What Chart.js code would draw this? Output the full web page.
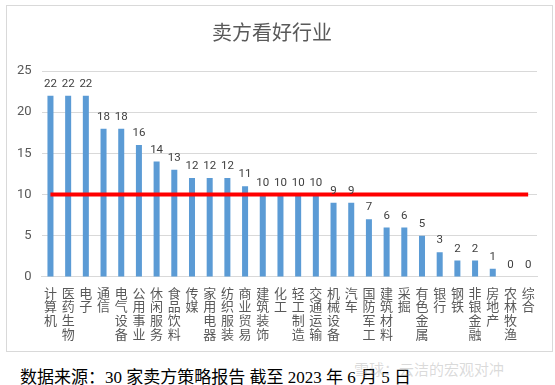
<!doctype html>
<html lang="zh">

<head>
    <meta charset="utf-8">
    <title>卖方看好行业</title>
    <script src="https://cdn.jsdelivr.net/npm/chart.js"></script>
    <style>
        body {
            margin: 0;
            width: 555px;
            height: 385px;
            background: #fff;
            position: relative;
            overflow: hidden;
        }

        #box {
            position: absolute;
            left: 6px;
            top: 5px;
            width: 545px;
            height: 345px;
            border: 1px solid #d9d9d9;
        }

        #note {
            position: absolute;
            left: 20px;
            top: 363px;
            font: 17px "Liberation Serif", "Noto Sans CJK SC", serif;
            color: #000;
            white-space: nowrap;
        }

        #mark {
            position: absolute;
            left: 354px;
            top: 358px;
            font: 15px "Noto Sans CJK SC", sans-serif;
            color: rgba(150, 150, 150, 0.35);
            white-space: nowrap;
        }
    </style>
</head>

<body>
    <div id="box">
        <canvas id="myChart" width="545" height="345"></canvas>
    </div>
    <div id="note">数据来源：30 家卖方策略报告 截至 2023 年 6 月 5 日</div>
    <div id="mark">雪球：云洁的宏观对冲</div>

    <script>
        // industries and how many of the 30 reports favour each
        var industries = ['计算机', '医药生物', '电子', '通信', '电气设备', '公用事业', '休闲服务', '食品饮料',
            '传媒', '家用电器', '纺织服装', '商业贸易', '建筑装饰', '化工', '轻工制造', '交通运输',
            '机械设备', '汽车', '国防军工', '建筑材料', '采掘', '有色金属', '银行', '钢铁',
            '非银金融', '房地产', '农林牧渔', '综合'];
        var counts = [22, 22, 22, 18, 18, 16, 14, 13, 12, 12, 12, 11, 10, 10, 10, 10,
            9, 9, 7, 6, 6, 5, 3, 2, 2, 1, 0, 0];
        var threshold = [10, 10, 10, 10, 10, 10, 10, 10, 10, 10, 10, 10, 10, 10, 10, 10,
            10, 10, 10, 10, 10, 10, 10, 10, 10, 10, 10, 10];
        var yTicks = [0, 5, 10, 15, 20, 25];

        // value labels above the bars
        const barValues = {
            id: 'barValues',
            afterDatasetsDraw(chart) {
                const ctx = chart.ctx;
                const meta = chart.getDatasetMeta(1);
                ctx.save();
                ctx.font = '11.5px Roboto, sans-serif';
                ctx.fillStyle = '#404040';
                ctx.textAlign = 'center';
                ctx.textBaseline = 'bottom';
                meta.data.forEach(function (bar, i) {
                    ctx.fillText(counts[i], bar.x, bar.y - 6);
                });
                ctx.restore();
            }
        };

        const ctx = document.getElementById('myChart');
        const myChart = new Chart(ctx, {
            data: {
                // each character on its own line, like the stacked labels of the original
                labels: industries.map(function (s) { return s.split(''); }),
                datasets: [{
                    type: 'line',
                    data: threshold,
                    borderColor: '#ff0000',
                    borderWidth: 4,
                    pointRadius: 0,
                    order: 0
                }, {
                    type: 'bar',
                    data: counts,
                    backgroundColor: '#5b9bd5',
                    barPercentage: 0.34,
                    categoryPercentage: 1,
                    order: 1
                }]
            },
            options: {
                responsive: false,
                animation: false,
                layout: {
                    padding: { left: 0, right: 15, bottom: 1 }
                },
                plugins: {
                    legend: { display: false },
                    tooltip: { enabled: false },
                    title: {
                        display: true,
                        text: '卖方看好行业',
                        color: '#595959',
                        font: { family: '"Noto Sans CJK SC"', size: 20, weight: 'normal' },
                        padding: { top: 14, bottom: 27 }
                    }
                },
                scales: {
                    x: {
                        grid: { display: false, drawTicks: false },
                        border: { color: '#d9d9d9' },
                        ticks: {
                            color: '#595959',
                            autoSkip: false,
                            maxRotation: 0,
                            padding: 9,
                            font: { family: '"Noto Sans CJK SC"', size: 13, lineHeight: 1.06 }
                        }
                    },
                    y: {
                        min: 0,
                        max: 25,
                        afterBuildTicks: function (axis) {
                            axis.ticks = yTicks.map(function (v) { return { value: v }; });
                        },
                        grid: { color: '#d9d9d9', drawTicks: false },
                        border: { display: false },
                        ticks: {
                            color: '#595959',
                            padding: 10,
                            font: { family: 'Roboto', size: 13 }
                        }
                    }
                }
            },
            plugins: [barValues]
        });
    </script>
</body>

</html>
